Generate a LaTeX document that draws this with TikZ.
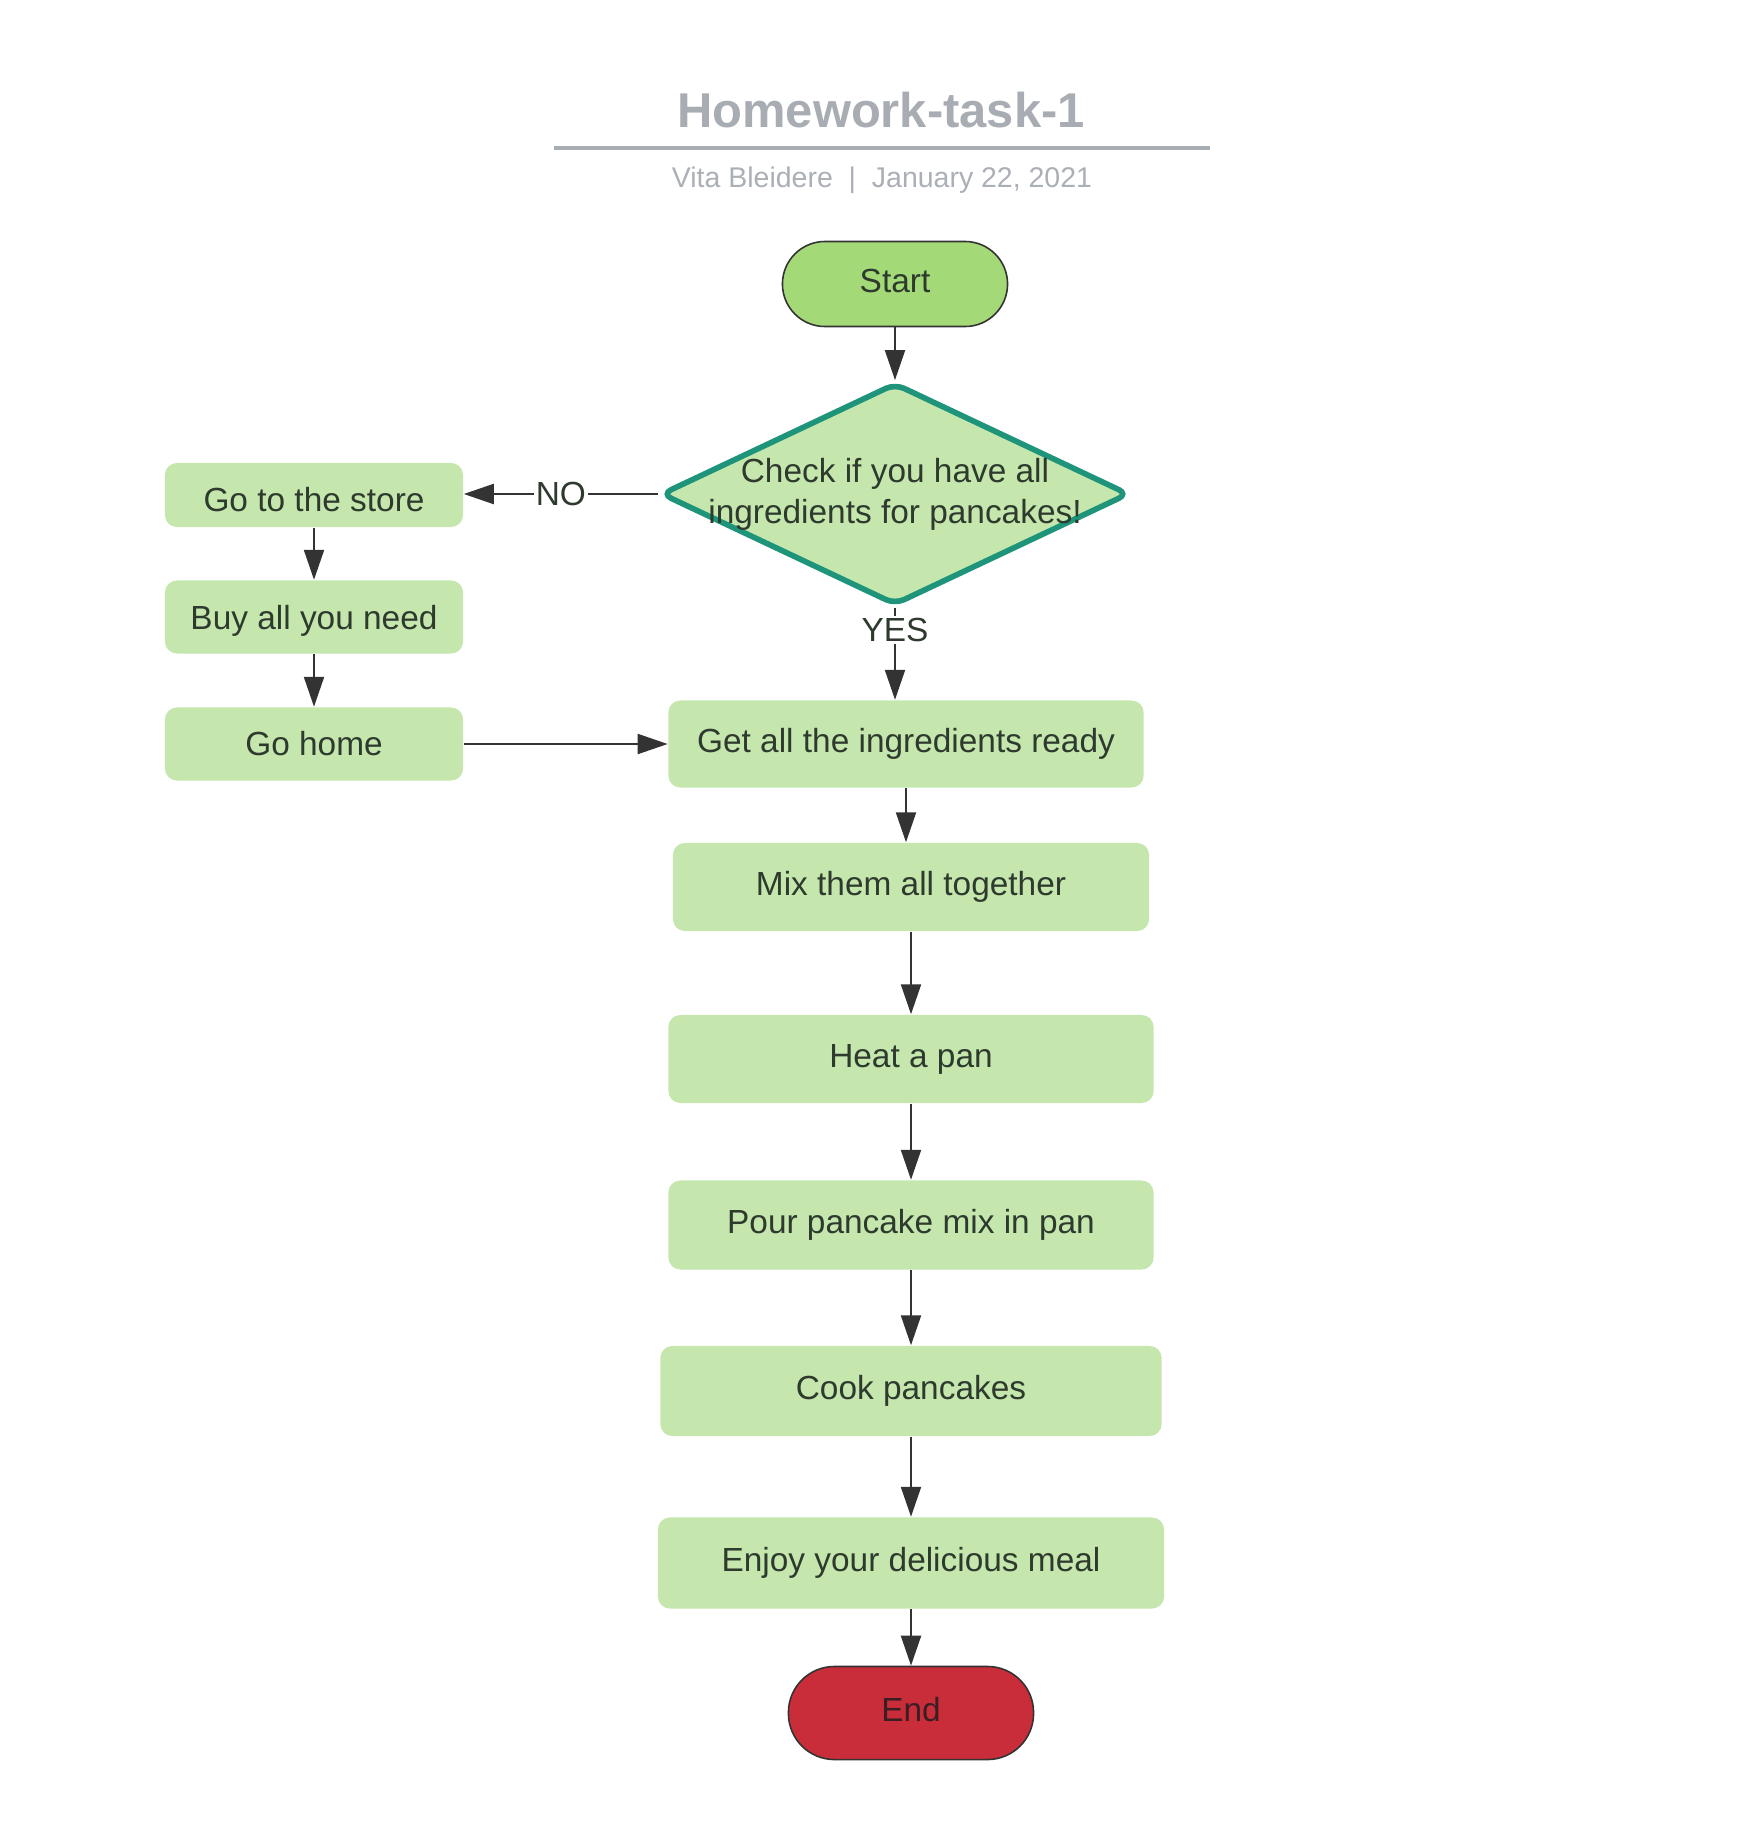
\documentclass[tikz,border=0pt]{standalone}
\usepackage{fontspec}
\setmainfont{Liberation Sans}
\usetikzlibrary{arrows.meta,shapes.geometric}

\definecolor{titlegray}{HTML}{A8ACB3}
\definecolor{subgray}{HTML}{ABAFB6}
\definecolor{boxgreen}{HTML}{C5E7AE}
\definecolor{startgreen}{HTML}{A3D977}
\definecolor{tealline}{HTML}{1E957A}
\definecolor{endred}{HTML}{C92D39}
\definecolor{ink}{HTML}{2E3A2E}
\definecolor{endink}{HTML}{3B1E22}
\definecolor{wire}{HTML}{333333}

\tikzset{
  bodyfont/.style={font=\fontsize{9.5pt}{11.6pt}\selectfont},
  stepbox/.style={rectangle, rounded corners=0.12cm, fill=boxgreen, text=ink,
    bodyfont, inner sep=0pt, align=center},
  terminal/.style={rectangle, draw=wire, line width=0.45pt, text=ink, bodyfont,
    inner sep=0pt, text height=0.24cm, text depth=0.07cm},
  decision/.style={diamond, draw=tealline, fill=boxgreen, line width=1.6pt,
    rounded corners=0.1cm, inner sep=0pt},
  arr/.style={draw=wire, line width=0.6pt, -{Triangle[width=0.2cm,length=0.3cm]}},
  edgelabel/.style={fill=white, inner sep=0.5pt, text=ink, bodyfont},
}

\begin{document}
\begin{tikzpicture}[x=0.01cm,y=-0.01cm]
  \useasboundingbox (0,0) rectangle (1751,1836);

  % heading
  \node[anchor=base, text=titlegray, font=\fontsize{13.9pt}{16pt}\selectfont\bfseries]
    (title) at (881,127) {Homework-task-1};
  \draw[titlegray, line width=1pt] (554,148) -- (1210,148);
  \node[anchor=base, text=subgray, font=\fontsize{8.1pt}{10pt}\selectfont]
    (byline) at (882,187) {Vita Bleidere\ \ |\ \ January 22, 2021};

  % main column
  \node[terminal, fill=startgreen, rounded corners=0.425cm,
        minimum width=2.25cm, minimum height=0.85cm] (start) at (895,284) {Start};
  \node[decision, minimum width=4.68cm, minimum height=2.22cm] (dec) at (895,494) {};
  \node[align=center, text=ink, bodyfont, inner sep=0pt] (dectxt) at (895,494)
    {Check if you have all\\ingredients for pancakes!};

  \node[stepbox, minimum width=4.75cm, minimum height=0.87cm] (ing)   at (906,744)  {Get all the ingredients ready};
  \node[stepbox, minimum width=4.76cm, minimum height=0.88cm] (mix)   at (911,887)  {Mix them all together};
  \node[stepbox, minimum width=4.85cm, minimum height=0.88cm] (heat)  at (911,1059) {Heat a pan};
  \node[stepbox, minimum width=4.85cm, minimum height=0.89cm] (pour)  at (911,1225) {Pour pancake mix in pan};
  \node[stepbox, minimum width=5.01cm, minimum height=0.90cm] (cook)  at (911,1391) {Cook pancakes};
  \node[stepbox, minimum width=5.06cm, minimum height=0.91cm] (enjoy) at (911,1563) {Enjoy your delicious meal};
  \node[terminal, fill=endred, text=endink, rounded corners=0.46cm,
        minimum width=2.45cm, minimum height=0.93cm] (finish) at (911,1713) {End};

  % shopping branch
  \node[stepbox, minimum width=2.98cm, minimum height=0.64cm,
        text height=0.32cm, text depth=0cm] (store) at (314,495) {Go to the store};
  \node[stepbox, minimum width=2.98cm, minimum height=0.73cm,
        text height=0.32cm, text depth=0.07cm] (buy) at (314,617) {Buy all you need};
  \node[stepbox, minimum width=2.98cm, minimum height=0.73cm] (home)  at (314,744) {Go home};

  % connectors
  \draw[arr] (start.south) -- (dec.north);
  \draw[arr] (dec.west) -- node[edgelabel, pos=0.5] (nolabel) {NO} (dec.west -| store.east);
  \draw[arr] (dec.south) -- node[edgelabel, pos=0.24] (yeslabel) {YES} (dec.south |- ing.north);
  \draw[arr] (store.south) -- (buy.north);
  \draw[arr] (buy.south) -- (home.north);
  \draw[arr] (home.east) -- (ing.west);
  \draw[arr] (ing.south) -- (ing.south |- mix.north);
  \draw[arr] (mix.south) -- (heat.north);
  \draw[arr] (heat.south) -- (pour.north);
  \draw[arr] (pour.south) -- (cook.north);
  \draw[arr] (cook.south) -- (enjoy.north);
  \draw[arr] (enjoy.south) -- (finish.north);
\end{tikzpicture}
\end{document}
